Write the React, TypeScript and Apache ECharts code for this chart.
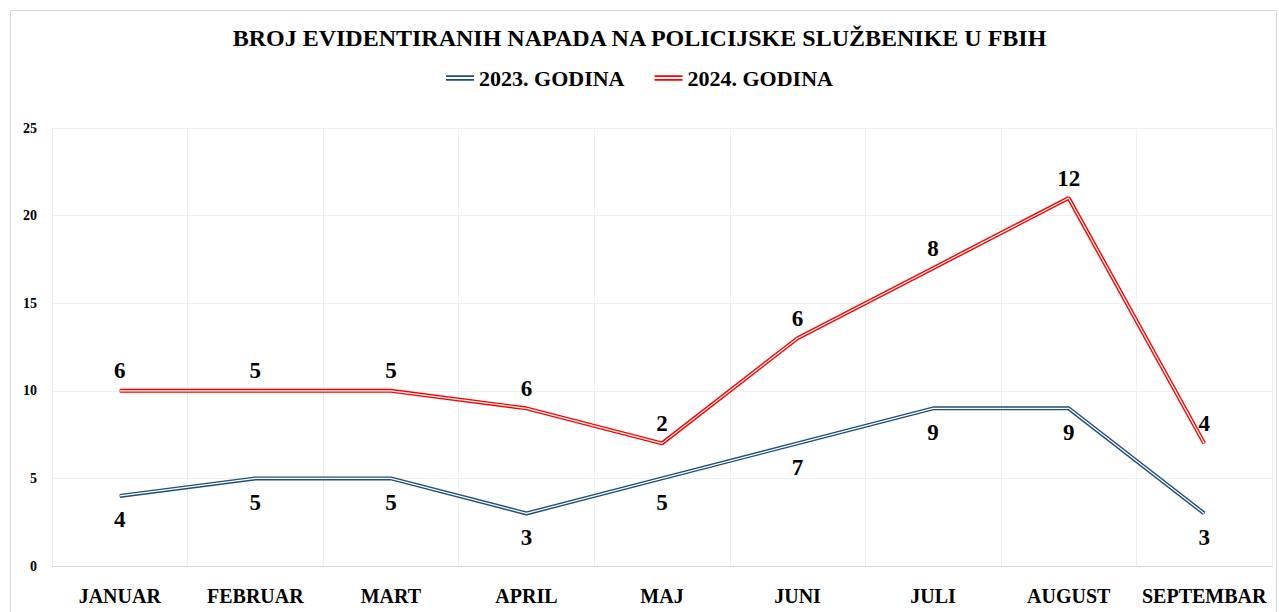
import React, { useEffect, useRef } from "react";
import * as echarts from "echarts";

const months = ["JANUAR", "FEBRUAR", "MART", "APRIL", "MAJ", "JUNI", "JULI", "AUGUST", "SEPTEMBAR"];
const values2023 = [4, 5, 5, 3, 5, 7, 9, 9, 3];
const values2024 = [6, 5, 5, 6, 2, 6, 8, 12, 4];
const yTicks = { min: 0, max: 25, interval: 5 };

const FONT = "'Liberation Serif', 'DejaVu Serif', serif";
const BLUE = "#1F4E79";
const RED = "#FF0000";

export default function App() {
  const ref = useRef<HTMLDivElement>(null);
  useEffect(() => {
    const chart = echarts.init(ref.current!, null, { renderer: "svg" });
    const labelStyle = { show: true, fontFamily: FONT, fontWeight: "bold", fontSize: 23, color: "#000" };
    chart.setOption({
      animation: false,
      backgroundColor: "#fff",
      title: {
        text: "BROJ EVIDENTIRANIH NAPADA NA POLICIJSKE SLUŽBENIKE U FBIH",
        left: "center",
        top: 21,
        textStyle: { fontFamily: FONT, fontWeight: "bold", fontSize: 24, color: "#000" },
      },
      legend: {
        top: 62,
        left: "center",
        itemGap: 30,
        itemWidth: 28,
        itemHeight: 6,
        textStyle: { fontFamily: FONT, fontWeight: "bold", fontSize: 22, color: "#000" },
        data: [
          { name: "2023. GODINA", icon: "path://M0,0H30V2H0Z M0,4H30V6H0Z", itemStyle: { color: BLUE, opacity: 1 } },
          { name: "2024. GODINA", icon: "path://M0,0H30V2H0Z M0,4H30V6H0Z", itemStyle: { color: RED, opacity: 1 } },
        ],
      },
      graphic: [
        {
          type: "rect",
          shape: { x: 10.5, y: 10.5, width: 1266, height: 640 },
          style: { fill: "none", stroke: "#d9d9d9", lineWidth: 1 },
          silent: true,
        },
      ],
      grid: { left: 52, right: 7, top: 128, bottom: 46 },
      xAxis: {
        type: "category",
        data: months,
        boundaryGap: true,
        axisLine: { lineStyle: { color: "#d9d9d9" } },
        axisTick: { show: false },
        splitLine: { show: true, interval: 0, lineStyle: { color: "#efefef" } },
        axisLabel: { interval: 0, fontFamily: FONT, fontWeight: "bold", fontSize: 20, color: "#000", margin: 20 },
      },
      yAxis: {
        type: "value",
        min: yTicks.min,
        max: yTicks.max,
        interval: yTicks.interval,
        axisLine: { show: false },
        axisTick: { show: false },
        splitLine: { lineStyle: { color: "#efefef" } },
        axisLabel: { fontFamily: FONT, fontWeight: "bold", fontSize: 14, color: "#000", margin: 15 },
      },
      series: [
        {
          name: "2023. GODINA",
          type: "line",
          stack: "main",
          data: values2023,
          symbol: "circle",
          symbolSize: 1,
          showSymbol: true,
          itemStyle: { color: BLUE },
          color: BLUE,
          lineStyle: { color: BLUE, width: 4 },
          label: { ...labelStyle, position: "bottom", distance: 12 },
          labelLayout: { hideOverlap: false },
          z: 2,
        },
        {
          name: "2024. GODINA",
          type: "line",
          stack: "main",
          data: values2024,
          symbol: "circle",
          symbolSize: 1,
          showSymbol: true,
          itemStyle: { color: RED },
          color: RED,
          lineStyle: { color: RED, width: 4 },
          label: { ...labelStyle, position: "top", distance: 8 },
          labelLayout: { hideOverlap: false },
          z: 2,
        },
        {
          name: "w2023",
          type: "line",
          stack: "white",
          data: values2023,
          symbol: "none",
          lineStyle: { color: "#fff", width: 1.2 },
          silent: true,
          z: 3,
        },
        {
          name: "w2024",
          type: "line",
          stack: "white",
          data: values2024,
          symbol: "none",
          lineStyle: { color: "#fff", width: 1.2 },
          silent: true,
          z: 3,
        },
      ],
    });
    return () => chart.dispose();
  }, []);
  return (
    <div
      ref={ref}
      style={{ position: "fixed", left: 0, top: 0, width: 1279, height: 612 }}
    />
  );
}
